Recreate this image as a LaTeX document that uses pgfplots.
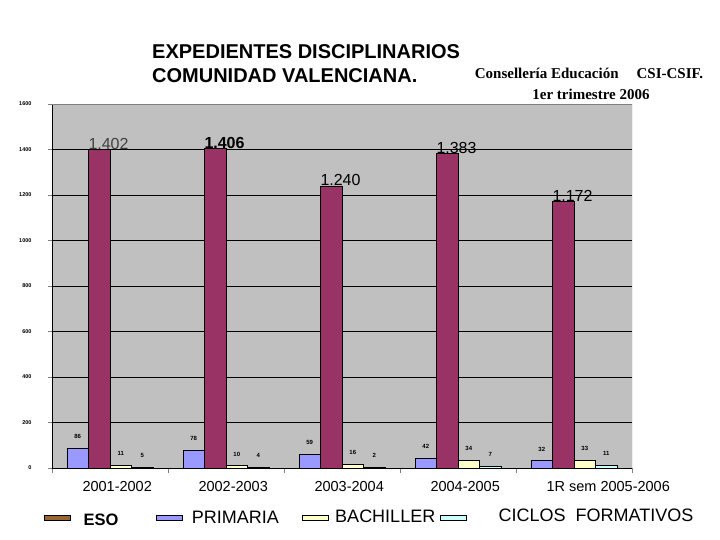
\documentclass[border=0pt]{standalone}
\usepackage{fontspec}
\setmainfont{Liberation Sans}
\newfontfamily\timesf{Liberation Serif}
\usepackage{pgfplots}
\pgfplotsset{compat=1.18}
\definecolor{prim}{HTML}{9999FF}
\definecolor{eso}{HTML}{993366}
\definecolor{bach}{HTML}{FFFFCC}
\definecolor{cicl}{HTML}{CCFFFF}
\definecolor{esoleg}{HTML}{996633}
\definecolor{bgc}{HTML}{C0C0C0}
\definecolor{frame}{HTML}{808080}
\pgfplotsset{swatch/.style={legend image code/.code={\draw[##1] (0pt,-2.5pt) rectangle (26pt,2.5pt);}}}
\begin{document}
\begin{tikzpicture}
\path[use as bounding box] (0pt,0pt) rectangle (720pt,540pt);
\begin{axis}[
  at={(52pt,72pt)}, anchor=south west, scale only axis,
  width=580pt, height=364pt,
  xmin=-0.5, xmax=4.5, ymin=0, ymax=1600,
  ytick={0,200,...,1600},
  xtick={0,...,4},
  xticklabels={2001-2002,2002-2003,2003-2004,2004-2005,1R sem 2005-2006},
  minor xtick={-0.5,0.5,...,4.5},
  major x tick style={draw=none},
  tick align=outside, major tick length=4pt, minor tick length=5pt,
  ymajorgrids, major grid style={black, line width=0.6pt},
  axis background/.style={fill=bgc},
  axis x line*=bottom, axis y line*=left,
  axis line style={black, -, line width=0.8pt},
  ybar=0pt, bar width=21.5pt,
  /pgf/number format/assume math mode=true,
  /pgf/number format/1000 sep={},
  yticklabel style={font=\fontsize{5.5}{6}\selectfont\bfseries, xshift=-13pt},
  xticklabel style={font=\fontsize{14.5}{16}\selectfont, anchor=north west, xshift=-31pt, yshift=-6pt},
  legend style={at={(-0.019,-0.137)}, anchor=west, draw=none, fill=none,
    font=\fontsize{18}{20}\selectfont, legend columns=4,
    nodes={inner xsep=0pt},
    /tikz/column 2/.style={column sep=38pt},
    /tikz/column 4/.style={column sep=23pt},
    /tikz/column 6/.style={column sep=5pt}},
]
\addplot[fill=prim, draw=black, line width=0.5pt, bar shift=-32.25pt, forget plot,
  nodes near coords, point meta=explicit symbolic,
  every node near coord/.append style={font=\fontsize{6}{6}\selectfont\bfseries, anchor=south, yshift=6pt, black}]
  coordinates {(0,86)[86] (1,78)[78] (2,59)[59] (3,42)[42] (4,32)[32]};
\addplot[fill=eso, draw=black, line width=0.5pt, bar shift=-10.75pt, forget plot,
  nodes near coords, point meta=explicit symbolic,
  every node near coord/.append style={font=\fontsize{16}{16}\selectfont, anchor=south west, xshift=-11pt, inner sep=0pt, yshift=-0.5pt, black}]
  coordinates {(0,1402)[{\color{darkgray}1.402}] (1,1406)[{\bfseries 1.406}] (2,1240)[1.240] (3,1383)[1.383] (4,1172)[1.172]};
\addplot[fill=bach, draw=black, line width=0.5pt, bar shift=10.75pt, forget plot,
  nodes near coords, point meta=explicit symbolic,
  every node near coord/.append style={font=\fontsize{6}{6}\selectfont\bfseries, anchor=south, yshift=6pt, black}]
  coordinates {(0,11)[11] (1,10)[10] (2,16)[16] (3,34)[34] (4,33)[33]};
\addplot[fill=cicl, draw=black, line width=0.5pt, bar shift=32.25pt, forget plot,
  nodes near coords, point meta=explicit symbolic,
  every node near coord/.append style={font=\fontsize{6}{6}\selectfont\bfseries, anchor=south, yshift=6pt, black}]
  coordinates {(0,5)[5] (1,4)[4] (2,2)[2] (3,7)[7] (4,11)[11]};
\draw[frame, line width=0.8pt] (rel axis cs:0,1) -- (rel axis cs:1,1) -- (rel axis cs:1,0);
\addlegendimage{swatch, fill=esoleg, draw=black}
\addlegendentry{\hspace{13pt}\raisebox{-5pt}{\fontsize{16.5}{18}\selectfont\textbf{ESO}}}
\addlegendimage{swatch, fill=prim, draw=black}
\addlegendentry{\hspace{9pt}\raisebox{-1pt}{PRIMARIA}}
\addlegendimage{swatch, fill=bach, draw=black}
\addlegendentry{\hspace{7pt}\raisebox{1pt}{BACHILLER}}
\addlegendimage{swatch, fill=cicl, draw=black}
\addlegendentry{\hspace{32pt}\raisebox{4pt}{CICLOS\ \ FORMATIVOS}}
\end{axis}
\node[anchor=west, inner sep=0, font=\fontsize{20}{22}\selectfont\bfseries] at (152pt,488pt) {EXPEDIENTES DISCIPLINARIOS};
\node[anchor=west, inner sep=0, font=\fontsize{20}{22}\selectfont\bfseries] at (152pt,464pt) {COMUNIDAD VALENCIANA.};
\node[inner sep=0, font=\timesf\fontsize{15}{17}\selectfont\bfseries] at (589pt,467pt) {Consellería Educación\hspace{1.2em}CSI-CSIF.};
\node[inner sep=0, font=\timesf\fontsize{15}{17}\selectfont\bfseries] at (591pt,446pt) {1er trimestre 2006};
\end{tikzpicture}
\end{document}
